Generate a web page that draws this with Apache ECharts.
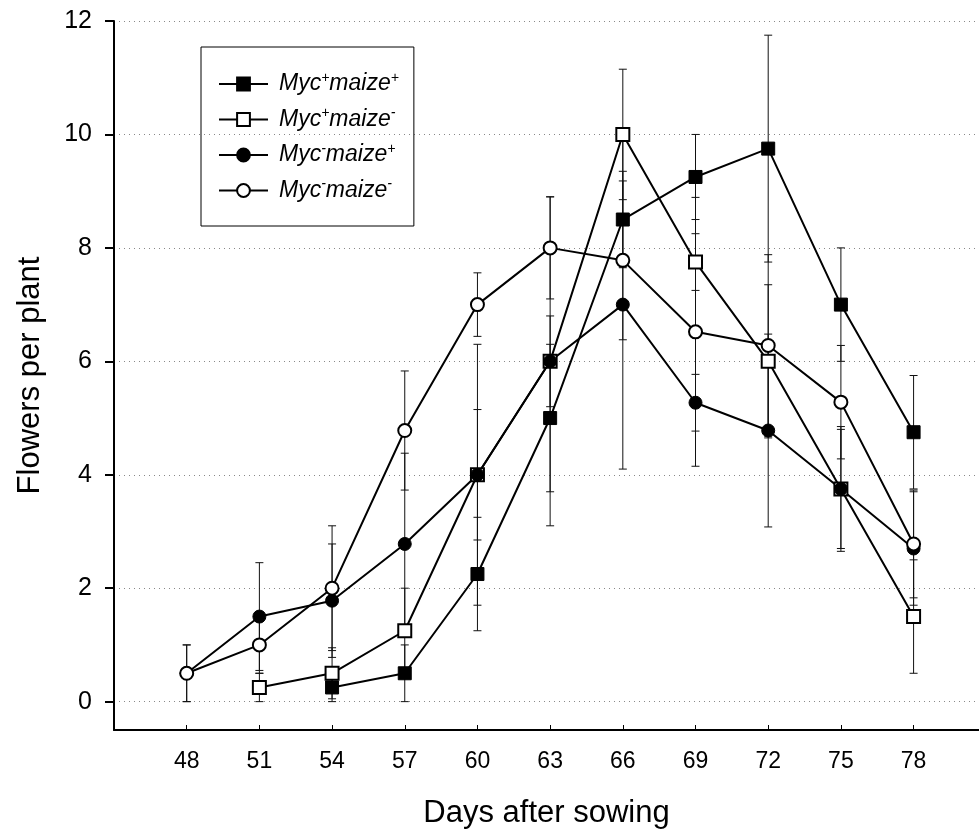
<!DOCTYPE html>
<html>
<head>
<meta charset="utf-8">
<script src="https://cdn.jsdelivr.net/npm/echarts@6/dist/echarts.min.js"></script>
<style>
  html, body { margin: 0; padding: 0; background: #fff; }
  #chart { width: 979px; height: 836px; }
</style>
</head>
<body>
<div id="chart"></div>
<script>
// Days after sowing
const days = [48, 51, 54, 57, 60, 63, 66, 69, 72, 75, 78];
const xTicks = [48, 51, 54, 57, 60, 63, 66, 69, 72, 75, 78];
const yTicks = [0, 2, 4, 6, 8, 10, 12];

// Mean flowers per plant and error (±) for each treatment
const mycPlusMaizePlus = [null, null, 0.25, 0.5, 2.25, 5.0, 8.5, 9.25, 9.75, 7.0, 4.75];
const mycPlusMaizePlusErr = [null, null, 0.25, 0.5, 1.0, 1.3, 0.85, 0.75, 2.0, 1.0, 1.0];

const mycPlusMaizeMinus = [null, 0.25, 0.5, 1.25, 4.0, 6.0, 10.0, 7.75, 6.0, 3.75, 1.5];
const mycPlusMaizeMinusErr = [null, 0.25, 0.45, 0.75, 2.3, 2.9, 1.15, 0.5, 1.35, 1.1, 1.0];

const mycMinusMaizePlus = [0.5, 1.5, 1.78, 2.78, 4.0, 6.0, 7.0, 5.27, 4.78, 3.75, 2.7];
const mycMinusMaizePlusErr = [0.5, 0.95, 1.0, 1.6, 1.15, 0.8, 2.9, 0.5, 1.7, 1.05, 1.0];

const mycMinusMaizeMinus = [0.5, 1.0, 2.0, 4.78, 7.0, 8.0, 7.78, 6.52, 6.28, 5.28, 2.78];
const mycMinusMaizeMinusErr = [0.5, 0.5, 1.1, 1.05, 0.56, 0.9, 1.4, 2.37, 1.6, 1.0, 0.95];

const seriesNames = ['Myc+maize+', 'Myc+maize-', 'Myc-maize+', 'Myc-maize-'];
const legendRich = {
  'Myc+maize+': '{a|Myc}{s|+}{n|maize}{s|+}',
  'Myc+maize-': '{a|Myc}{s|+}{n|maize}{s|-}',
  'Myc-maize+': '{a|Myc}{s|-}{n|maize}{s|+}',
  'Myc-maize-': '{a|Myc}{s|-}{n|maize}{s|-}'
};

const FONT = 'Liberation Sans, Arial, sans-serif';

function pairs(values) {
  return days.map((d, i) => values[i] == null ? null : [d, values[i]]).filter(p => p);
}
function errPairs(values, errs) {
  return days.map((d, i) => values[i] == null ? null : [d, values[i] - errs[i], values[i] + errs[i]]).filter(p => p);
}

// Vertical error bar with short caps at both ends
function errorBarRender(params, api) {
  const x = api.value(0);
  const lo = api.coord([x, api.value(1)]);
  const hi = api.coord([x, api.value(2)]);
  const w = 4;
  const style = { stroke: '#111', lineWidth: 1 };
  return {
    type: 'group',
    children: [
      { type: 'line', shape: { x1: hi[0], y1: hi[1], x2: lo[0], y2: lo[1] }, style },
      { type: 'line', shape: { x1: hi[0] - w, y1: hi[1], x2: hi[0] + w, y2: hi[1] }, style },
      { type: 'line', shape: { x1: lo[0] - w, y1: lo[1], x2: lo[0] + w, y2: lo[1] }, style }
    ]
  };
}

function lineSeries(name, values, symbol, filled) {
  return {
    name,
    type: 'line',
    data: pairs(values),
    symbol,
    symbolSize: 13,
    showAllSymbol: true,
    z: 3,
    lineStyle: { color: '#000', width: 2 },
    itemStyle: { color: filled ? '#000' : '#fff', borderColor: '#000', borderWidth: filled ? 1 : 2, opacity: 1 },
    emphasis: { disabled: true },
    animation: false
  };
}
function errSeries(values, errs) {
  return {
    type: 'custom',
    renderItem: errorBarRender,
    data: errPairs(values, errs),
    z: 1,
    silent: true,
    animation: false
  };
}

const chart = echarts.init(document.getElementById('chart'), null, { renderer: 'canvas' });
chart.setOption({
  animation: false,
  backgroundColor: '#fff',
  grid: { left: 114, right: 0, top: 21, bottom: 106, containLabel: false },
  legend: {
    data: seriesNames,
    orient: 'vertical',
    left: 201,
    top: 47,
    padding: [24, 15, 24, 17],
    itemGap: 11,
    itemWidth: 49,
    itemHeight: 16,
    borderColor: '#000',
    borderWidth: 1,
    selectedMode: false,
    formatter: name => legendRich[name],
    textStyle: {
      color: '#000',
      fontFamily: FONT,
      fontStyle: 'italic',
      rich: {
        a: { fontSize: 23, fontStyle: 'italic', fontFamily: FONT, color: '#000', lineHeight: 26, padding: [0, 0, 0, 6] },
        n: { fontSize: 23, fontStyle: 'italic', fontFamily: FONT, color: '#000', lineHeight: 26 },
        s: { fontSize: 14, fontStyle: 'italic', fontFamily: FONT, color: '#000', lineHeight: 12, verticalAlign: 'top' }
      }
    }
  },
  xAxis: {
    type: 'value',
    min: 45,
    max: 80.7,
    name: 'Days after sowing',
    nameLocation: 'middle',
    nameGap: 68,
    nameTextStyle: { fontFamily: FONT, fontSize: 31, color: '#000' },
    axisLine: { show: true, onZero: false, lineStyle: { color: '#000', width: 2 } },
    axisTick: { show: true, inside: true, length: 5, customValues: xTicks, lineStyle: { color: '#000', width: 1 } },
    axisLabel: { customValues: xTicks, margin: 20, fontFamily: FONT, fontSize: 23, color: '#000' },
    splitLine: { show: false }
  },
  yAxis: {
    type: 'value',
    min: -0.5,
    max: 12,
    name: 'Flowers per plant',
    nameLocation: 'middle',
    nameGap: 68,
    nameTextStyle: { fontFamily: FONT, fontSize: 31, color: '#000' },
    axisLine: { show: true, onZero: false, lineStyle: { color: '#000', width: 2 } },
    axisTick: { show: true, inside: false, length: 9, customValues: yTicks, lineStyle: { color: '#000', width: 2 } },
    axisLabel: { customValues: yTicks, margin: 22, fontFamily: FONT, fontSize: 25, color: '#000' },
    splitLine: { show: true, lineStyle: { color: '#888', width: 1, type: [1, 4] } }
  },
  series: [
    errSeries(mycPlusMaizePlus, mycPlusMaizePlusErr),
    errSeries(mycPlusMaizeMinus, mycPlusMaizeMinusErr),
    errSeries(mycMinusMaizePlus, mycMinusMaizePlusErr),
    errSeries(mycMinusMaizeMinus, mycMinusMaizeMinusErr),
    lineSeries('Myc+maize+', mycPlusMaizePlus, 'rect', true),
    lineSeries('Myc+maize-', mycPlusMaizeMinus, 'rect', false),
    lineSeries('Myc-maize+', mycMinusMaizePlus, 'circle', true),
    lineSeries('Myc-maize-', mycMinusMaizeMinus, 'circle', false)
  ]
});
</script>
</body>
</html>
